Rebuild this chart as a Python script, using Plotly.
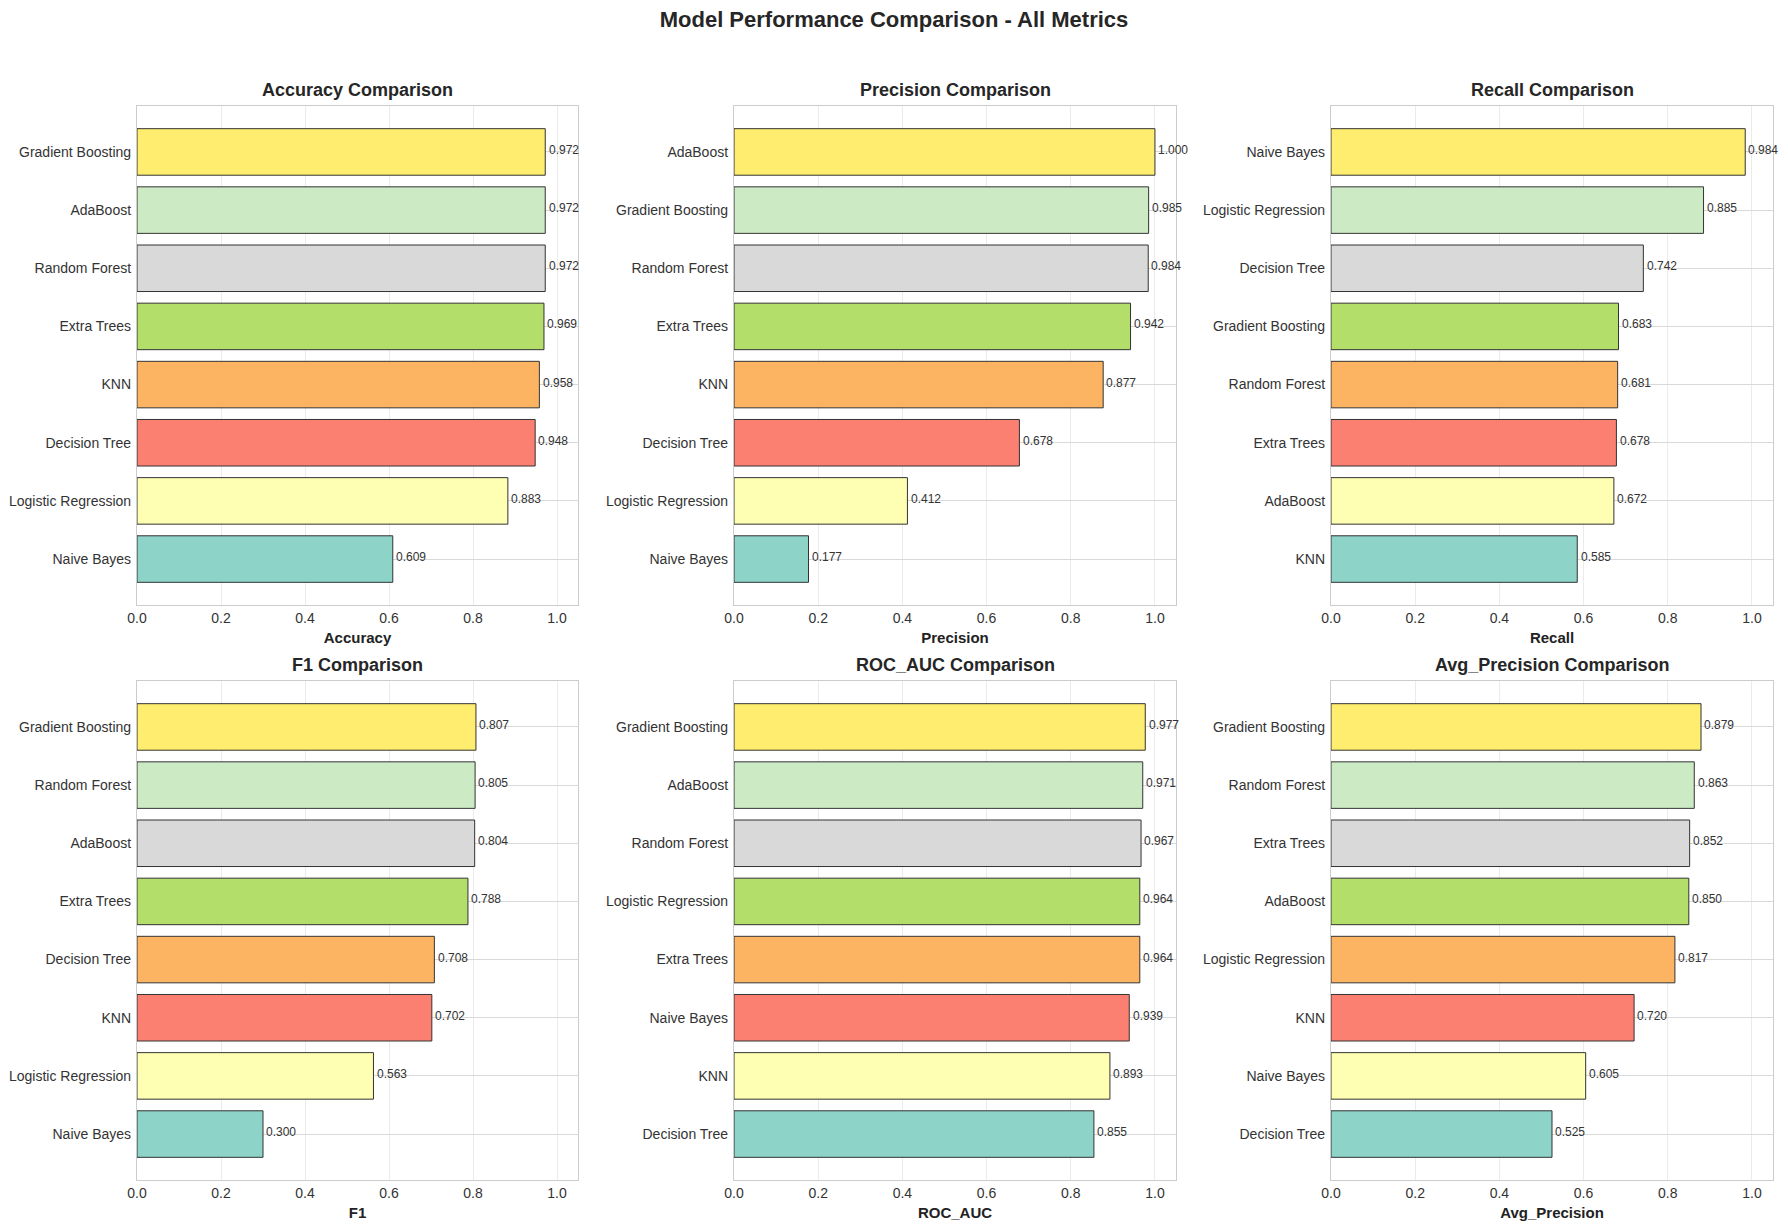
import plotly.graph_objects as go

# ---- data (top-to-bottom as read in each panel) ----
metrics = ["Accuracy", "Precision", "Recall", "F1", "ROC_AUC", "Avg_Precision"]

accuracy_models = ["Gradient Boosting", "AdaBoost", "Random Forest", "Extra Trees", "KNN",
                   "Decision Tree", "Logistic Regression", "Naive Bayes"]
accuracy_values = [0.972, 0.972, 0.972, 0.969, 0.958, 0.948, 0.883, 0.609]

precision_models = ["AdaBoost", "Gradient Boosting", "Random Forest", "Extra Trees", "KNN",
                    "Decision Tree", "Logistic Regression", "Naive Bayes"]
precision_values = [1.000, 0.985, 0.984, 0.942, 0.877, 0.678, 0.412, 0.177]

recall_models = ["Naive Bayes", "Logistic Regression", "Decision Tree", "Gradient Boosting",
                 "Random Forest", "Extra Trees", "AdaBoost", "KNN"]
recall_values = [0.984, 0.885, 0.742, 0.683, 0.681, 0.678, 0.672, 0.585]

f1_models = ["Gradient Boosting", "Random Forest", "AdaBoost", "Extra Trees", "Decision Tree",
             "KNN", "Logistic Regression", "Naive Bayes"]
f1_values = [0.807, 0.805, 0.804, 0.788, 0.708, 0.702, 0.563, 0.300]

rocauc_models = ["Gradient Boosting", "AdaBoost", "Random Forest", "Logistic Regression",
                 "Extra Trees", "Naive Bayes", "KNN", "Decision Tree"]
rocauc_values = [0.977, 0.971, 0.967, 0.964, 0.964, 0.939, 0.893, 0.855]

avgprec_models = ["Gradient Boosting", "Random Forest", "Extra Trees", "AdaBoost",
                  "Logistic Regression", "KNN", "Naive Bayes", "Decision Tree"]
avgprec_values = [0.879, 0.863, 0.852, 0.850, 0.817, 0.720, 0.605, 0.525]

x_ticks = [0.0, 0.2, 0.4, 0.6, 0.8, 1.0]

# colours bottom-to-top
bar_colors = ["#8dd3c7", "#ffffb3", "#fb8072", "#fdb462", "#b3de69", "#d9d9d9", "#ccebc5", "#ffed6f"]

panels = [
    (accuracy_models, accuracy_values),
    (precision_models, precision_values),
    (recall_models, recall_values),
    (f1_models, f1_values),
    (rocauc_models, rocauc_values),
    (avgprec_models, avgprec_values),
]

PW, PH = 1788, 1229
OFF = 8  # default page body margin
W, H = PW - 2 * OFF, PH - 2 * OFF
xdoms = [(137, 578), (734, 1176), (1331, 1773)]
ydoms = [(106, 605), (681, 1180)]

FONT = "Liberation Sans, Arial, sans-serif"
fig = go.Figure()
annotations = []

for i, (metric, (models, values)) in enumerate(zip(metrics, panels)):
    r, c = divmod(i, 3)
    ax = "" if i == 0 else str(i + 1)
    xa, ya = "x" + ax, "y" + ax
    m_bt = list(reversed(models))
    v_bt = list(reversed(values))
    fig.add_trace(go.Bar(
        x=v_bt, y=m_bt, orientation="h", width=0.8,
        marker=dict(color=bar_colors, line=dict(color="#333333", width=1)),
        xaxis=xa, yaxis=ya, showlegend=False, hoverinfo="x+y",
    ))
    x0, x1 = xdoms[c]
    y0, y1 = ydoms[r]
    xd = [(x0 - OFF) / W, (x1 - OFF) / W]
    yd = [1 - (y1 - OFF) / H, 1 - (y0 - OFF) / H]
    fig.layout["xaxis" + ax] = dict(
        domain=xd, anchor=ya, range=[0, 1.05], tickvals=x_ticks, tickformat=".1f",
        showgrid=True, gridcolor="#ebebeb", gridwidth=1, automargin=False,
        showline=True, linecolor="#cccccc", linewidth=1.2, mirror=True,
        zeroline=False, ticks="", tickfont=dict(size=14, color="#333333", family=FONT),
        title=dict(text="<b>%s</b>" % metric, font=dict(size=15, color="#222222", family=FONT), standoff=7),
        fixedrange=True,
    )
    fig.layout["yaxis" + ax] = dict(
        domain=yd, anchor=xa, type="category", categoryorder="array", categoryarray=m_bt,
        range=[-0.79, 7.79], showgrid=True, gridcolor="#d9d9d9", gridwidth=1, automargin=False,
        showline=True, linecolor="#cccccc", linewidth=1.2, mirror=True,
        zeroline=False, ticks="", ticklabelstandoff=2,
        tickfont=dict(size=14, color="#333333", family=FONT), fixedrange=True,
    )
    for m, v in zip(m_bt, v_bt):
        annotations.append(dict(
            x=v + 0.003, y=m, xref=xa, yref=ya, text="%.3f" % v, showarrow=False,
            xanchor="left", yanchor="middle", yshift=2,
            font=dict(size=12, color="#333333", family=FONT),
        ))
    annotations.append(dict(
        x=(xd[0] + xd[1]) / 2, y=yd[1], xref="paper", yref="paper",
        text="<b>%s Comparison</b>" % metric, showarrow=False,
        xanchor="center", yanchor="bottom", yshift=4,
        font=dict(size=18, color="#262626", family=FONT),
    ))

fig.update_layout(
    width=W, height=H, margin=dict(l=0, r=0, t=0, b=0, autoexpand=False),
    paper_bgcolor="white", plot_bgcolor="white",
    title=dict(text="<b>Model Performance Comparison - All Metrics</b>",
               x=(PW / 2 - OFF) / W, xanchor="center", y=1 - (19 - OFF) / H, yanchor="middle",
               font=dict(size=22, color="#262626", family=FONT)),
    annotations=annotations, bargap=0.2,
)

fig.write_html("out.html")
